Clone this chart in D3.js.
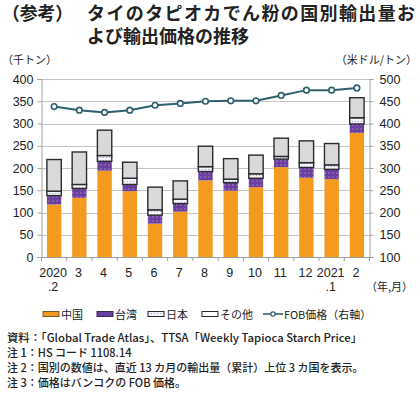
<!DOCTYPE html>
<html><head><meta charset="utf-8">
<script src="https://cdn.jsdelivr.net/npm/d3@7"></script>
<style>
html,body{margin:0;padding:0;background:#fff;}
svg{display:block;font-family:"Noto Sans CJK JP","Noto Sans",sans-serif;}
</style></head>
<body>
<svg id="c" width="420" height="395"></svg>
<script>
const categories = ["2020.2","3","4","5","6","7","8","9","10","11","12","2021.1","2"];
const tickLabels = [["2020",".2"],["3"],["4"],["5"],["6"],["7"],["8"],["9"],["10"],["11"],["12"],["2021",".1"],["2"]];
const china  = [118,133,194,148,75,102,172,149,157,202,178,175,279];
const taiwan = [20,21,21,15,19,18,20,18,20,18,23,22,20];
const japan  = [10,9,13,14,12,10,11,8,10,6,11,10,14];
const other  = [71,73,57,36,51,41,46,46,42,41,49,48,45];
const fobPrice = [438,430,425,430,441,445,450,451,451,463,475,475,480];
const leftTicks = [0,50,100,150,200,250,300,350,400];
const rightTicks = [100,150,200,250,300,350,400,450,500];
const seriesNames = ["中国","台湾","日本","その他"];
const lineName = "FOB価格（右軸）";

const svg = d3.select("#c");
const defs = svg.append("defs");
const pt = defs.append("pattern").attr("id","pTw").attr("width",4).attr("height",4).attr("patternUnits","userSpaceOnUse");
pt.append("rect").attr("width",4).attr("height",4).attr("fill","#6a3f9e");
pt.append("circle").attr("cx",1).attr("cy",1).attr("r",0.7).attr("fill","#a98ed3");
const pj = defs.append("pattern").attr("id","pJp").attr("width",3).attr("height",3).attr("patternUnits","userSpaceOnUse");
pj.append("rect").attr("width",3).attr("height",3).attr("fill","#f3f5fb");
pj.append("circle").attr("cx",1.5).attr("cy",1.5).attr("r",0.6).attr("fill","#8c9fd6");

const fills = ["#f39a1f","url(#pTw)","url(#pJp)","#d9d9d9"];
const strokes = ["none","none","#2b2b2b","#2b2b2b"];

const L = 41.5, R = 369.5, T = 79, B = 257;
const pad = 0.43;
const x = d3.scaleBand().domain(categories).range([L,R]).paddingInner(pad).paddingOuter(pad/2);
const y = d3.scaleLinear().domain([0,400]).range([B,T]);
const yR = d3.scaleLinear().domain([100,500]).range([B,T]);

// title
svg.append("text").attr("x",2).attr("y",20).attr("font-size",18).attr("font-weight","bold").attr("fill","#222")
  .attr("textLength",71).attr("lengthAdjust","spacingAndGlyphs").text("（参考）");
const tt = svg.append("text").attr("font-size",18).attr("font-weight","bold").attr("fill","#222");
tt.append("tspan").attr("x",87).attr("y",20).attr("textLength",328).text("タイのタピオカでん粉の国別輸出量お");
tt.append("tspan").attr("x",87).attr("y",43).text("よび輸出価格の推移");

// axis unit labels
svg.append("text").attr("x",2).attr("y",64).attr("font-size",11).attr("fill","#222").text("（千トン）");
svg.append("text").attr("x",417).attr("y",64).attr("font-size",11).attr("text-anchor","end").attr("fill","#222").text("（米ドル/トン）");

// gridlines
svg.append("g").selectAll("line").data(leftTicks.filter(d=>d>0)).join("line")
  .attr("x1",L).attr("x2",R).attr("y1",d=>Math.round(y(d))+0.5).attr("y2",d=>Math.round(y(d))+0.5)
  .attr("stroke","#c4c4c4").attr("stroke-width",1);

// axes
const axL = svg.append("g").attr("transform",`translate(${L},0)`)
  .call(d3.axisLeft(y).tickValues(leftTicks).tickSize(4).tickPadding(4));
const axR = svg.append("g").attr("transform",`translate(${R},0)`)
  .call(d3.axisRight(yR).tickValues(rightTicks).tickSize(4).tickPadding(6));
[axL,axR].forEach(a=>{
  a.select(".domain").attr("stroke","#a0a0a0");
  a.selectAll(".tick line").attr("stroke","#a0a0a0");
  a.selectAll("text").attr("font-size",12.5).attr("fill","#222").attr("font-family","'Liberation Sans',Arial,sans-serif");
});

// x axis baseline and ticks
svg.append("line").attr("x1",L).attr("x2",R).attr("y1",B+0.5).attr("y2",B+0.5).attr("stroke","#a0a0a0");
const bounds = categories.map(c=>x(c)+x.bandwidth()/2 - x.step()/2);
bounds.push(bounds[bounds.length-1]+x.step());
svg.append("g").selectAll("line").data(bounds).join("line")
  .attr("x1",d=>d).attr("x2",d=>d).attr("y1",B).attr("y2",B+4).attr("stroke","#a0a0a0");

// x labels
const xl = svg.append("g").selectAll("g").data(categories).join("g")
  .attr("transform",d=>`translate(${x(d)+x.bandwidth()/2-1},0)`);
xl.each(function(d,i){
  const g = d3.select(this);
  tickLabels[i].forEach((t,j)=>{
    g.append("text").attr("y",277+j*14).attr("text-anchor","middle").attr("font-size",12.5)
      .attr("font-family","'Liberation Sans',Arial,sans-serif").attr("fill","#222").text(t);
  });
});
svg.append("text").attr("x",366).attr("y",291).attr("font-size",11).attr("fill","#222").text("（年,月）");

// stacked bars
const rows = categories.map((c,i)=>({cat:c,"中国":china[i],"台湾":taiwan[i],"日本":japan[i],"その他":other[i]}));
const stack = d3.stack().keys(seriesNames)(rows);
stack.forEach((s,k)=>{
  svg.append("g").selectAll("rect").data(s).join("rect")
    .attr("x",d=>x(d.data.cat)).attr("width",x.bandwidth())
    .attr("y",d=>y(d[1])).attr("height",d=>y(d[0])-y(d[1]))
    .attr("fill",fills[k]).attr("stroke",strokes[k]).attr("stroke-width",1.4);
});

// FOB line
const line = d3.line().x((d,i)=>x(categories[i])+x.bandwidth()/2).y(d=>yR(d));
svg.append("path").datum(fobPrice).attr("d",line).attr("fill","none").attr("stroke","#2e5f6d").attr("stroke-width",2);
svg.append("g").selectAll("circle").data(fobPrice).join("circle")
  .attr("cx",(d,i)=>x(categories[i])+x.bandwidth()/2).attr("cy",d=>yR(d)).attr("r",2.8)
  .attr("fill","#fff").attr("stroke","#2e5f6d").attr("stroke-width",1.6);

// legend
const lg = svg.append("g");
const legX = [43,97,148,202];
const legStroke = ["#7a5a2a","#3a2a5a","#2b2b2b","#2b2b2b"];
const legFill = ["#f39a1f","#6a3f9e","url(#pJp)","#ffffff"];
seriesNames.forEach((n,k)=>{
  lg.append("rect").attr("x",legX[k]).attr("y",311.5).attr("width",16).attr("height",5)
    .attr("fill",legFill[k]).attr("stroke",legStroke[k]).attr("stroke-width",1);
  lg.append("text").attr("x",legX[k]+18).attr("y",318.5).attr("font-size",11).attr("fill","#222").text(n);
});
lg.append("line").attr("x1",263).attr("x2",283).attr("y1",314).attr("y2",314).attr("stroke","#2e5f6d").attr("stroke-width",1.6);
lg.append("circle").attr("cx",273).attr("cy",314).attr("r",2.2).attr("fill","#fff").attr("stroke","#2e5f6d").attr("stroke-width",1.2);
lg.append("text").attr("x",284).attr("y",318.5).attr("font-size",11).attr("fill","#222").text(lineName);

// notes
const notes = ["資料：「Global Trade Atlas」、TTSA「Weekly Tapioca Starch Price」",
  "注 1：HS コード 1108.14",
  "注 2：国別の数値は、直近 13 カ月の輸出量（累計）上位 3 カ国を表示。",
  "注 3：価格はバンコクの FOB 価格。"];
const noteLens = [355,0,0,0];
notes.forEach((t,i)=>{
  const el = svg.append("text").attr("x",7).attr("y",342+i*15).attr("font-size",11).attr("font-weight",500).attr("fill","#222").text(t);
  if(noteLens[i]) el.attr("textLength",noteLens[i]).attr("lengthAdjust","spacingAndGlyphs");
});
</script>
</body></html>
